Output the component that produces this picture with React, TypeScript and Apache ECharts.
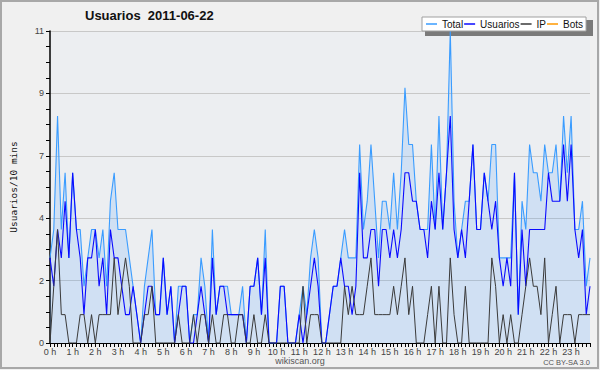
import React, { useEffect, useRef } from "react";
import * as echarts from "echarts";

// 10-minute slots over the day (144 points)
const slots: string[] = Array.from({ length: 144 }, (_, i) => `${Math.floor(i / 6)}:${(i % 6) * 10}`);

const seriesNames = ["Total", "Usuarios", "IP", "Bots"];

const totalValues = [
  3, 4, 8, 4, 6, 3, 6, 4, 4, 2, 3, 4, 4, 3, 4, 2, 5, 6, 4, 4, 4, 3, 2, 1, 0,
  2, 3, 4, 1, 1, 3, 1, 2, 0, 2, 2, 2,
  0, 1, 1, 3, 2, 0, 4, 1, 2, 2, 2, 1, 1,
  1, 2, 0, 2, 2, 3, 1, 4, 0, 0, 0, 2, 2, 0, 0, 0,
  1, 2, 1, 3, 4, 3, 0, 0, 1, 2, 2,
  3, 4, 3, 3, 3, 7, 4, 5, 7, 5, 3, 5, 5, 4, 6, 4, 6, 9, 7, 7, 5, 4, 4, 4,
  7, 4, 8, 4, 6, 11, 5, 3, 4, 5, 5, 7, 4, 4, 6, 5, 7, 7, 3, 3, 3, 3, 6, 1, 5, 4,
  7, 6, 6, 5, 7, 6, 6, 7, 5, 8, 6, 8, 4, 4, 5, 2, 3,
];

const usuariosValues = [
  3, 2, 4, 3, 5, 3, 6, 4, 3, 1, 3, 3, 4, 2, 3, 1, 4, 3, 3, 2, 1, 1, 2, 1, 0,
  1, 2, 2, 1, 1, 3, 1, 2, 0, 1, 2, 2,
  0, 0, 1, 2, 1, 0, 3, 1, 2, 2, 1, 1, 1,
  1, 1, 0, 2, 2, 3, 1, 3, 0, 0, 0, 2, 2, 0, 0, 0,
  1, 0, 1, 2, 3, 2, 0, 0, 1, 2, 2,
  3, 2, 2, 1, 2, 6, 3, 3, 4, 4, 2, 4, 4, 3, 4, 3, 4, 6, 6, 5, 5, 4, 4, 3,
  5, 4, 6, 4, 6, 8, 4, 3, 4, 3, 5, 7, 4, 4, 6, 5, 4, 5, 3, 2, 3, 2, 6, 1, 4, 2,
  4, 4, 4, 4, 4, 6, 5, 5, 5, 7, 5, 7, 4, 3, 4, 1, 2,
];

const ipValues = [
  0, 2, 4, 1, 1, 0, 0, 0, 1, 1, 0, 1, 0, 1, 1, 1, 1, 3, 1, 2, 3, 2, 0, 0, 0,
  1, 1, 2, 0, 0, 0, 0, 0, 0, 1, 0, 0,
  0, 1, 0, 1, 1, 0, 1, 0, 0, 1, 1, 0, 0,
  1, 1, 0, 0, 1, 0, 0, 1, 0, 0, 0, 0, 0, 0, 0, 0,
  0, 2, 0, 1, 1, 1, 0, 0, 0, 0, 0,
  0, 2, 1, 2, 1, 1, 1, 2, 3, 1, 1, 1, 1, 1, 2, 1, 2, 3, 1, 2, 0, 0, 0, 1,
  2, 0, 2, 0, 0, 3, 1, 0, 0, 2, 0, 0, 0, 0, 0, 0, 3, 2, 0, 1, 0, 1, 0, 0, 1, 2,
  3, 2, 2, 1, 3, 0, 1, 2, 0, 1, 1, 1, 0, 1, 1, 1, 1,
];

const botsValues: number[] = [];

const FONT = "Liberation Sans";

export default function App() {
  const ref = useRef<HTMLDivElement>(null);

  useEffect(() => {
    if (!ref.current) return;
    const chart = echarts.init(ref.current, undefined, { renderer: "svg" });
    chart.setOption({
      animation: false,
      backgroundColor: "#f0f0f0",
      title: {
        text: "Usuarios  2011-06-22",
        left: 85,
        top: 9,
        padding: 0,
        textStyle: { fontFamily: FONT, fontSize: 13, fontWeight: "bold", color: "#111" },
      },
      legend: {
        data: seriesNames,
        left: 422,
        top: 17,
        padding: [2, 3, 2, 4],
        itemGap: 1,
        itemWidth: 11,
        itemHeight: 1.5,
        icon: "rect",
        backgroundColor: "#ffffff",
        borderColor: "#a0a0a0",
        borderWidth: 1,
        z: 10,
        textStyle: { fontFamily: FONT, fontSize: 10, color: "#111" },
      },
      grid: {
        left: 47,
        right: 10,
        top: 31,
        bottom: 27,
        show: true,
        backgroundColor: "#eceef1",
        borderWidth: 0,
      },
      xAxis: {
        type: "category",
        data: slots,
        boundaryGap: false,
        axisLine: { lineStyle: { color: "#000", width: 1.2 } },
        axisTick: { interval: 0, length: 4, lineStyle: { color: "#000" } },
        axisLabel: {
          interval: 0,
          formatter: (_v: string, i: number) => (i % 6 === 0 ? `${i / 6} h` : ""),
          color: "#444",
          fontSize: 9,
          fontFamily: FONT,
          margin: 4,
        },
        splitLine: { show: false },
      },
      yAxis: {
        type: "value",
        min: 0,
        max: 11,
        interval: 2.2,
        name: "Usuarios/10 mins",
        nameLocation: "middle",
        nameGap: 32,
        nameRotate: 90,
        nameTextStyle: { fontFamily: "DejaVu Sans Mono", fontSize: 9.5, color: "#111" },
        axisLine: { show: true, lineStyle: { color: "#000", width: 1.5 } },
        axisTick: { show: true, length: 4, lineStyle: { color: "#000" } },
        minorTick: { show: true, splitNumber: 4, length: 4, lineStyle: { color: "#000" } },
        axisLabel: {
          formatter: (v: number) => String(Math.round(v)),
          fontSize: 9,
          fontFamily: FONT,
          color: "#444",
          margin: 6,
        },
        splitLine: { lineStyle: { color: "#c8c8c8", width: 1 } },
      },
      series: [
        {
          name: "Total",
          type: "line",
          data: totalValues,
          color: "#3a9cff",
          showSymbol: false,
          lineStyle: { width: 1.1, color: "#3a9cff" },
          areaStyle: { color: "rgba(51,153,255,0.22)" },
        },
        {
          name: "Usuarios",
          type: "line",
          data: usuariosValues,
          color: "#0a0aff",
          showSymbol: false,
          lineStyle: { width: 1.1, color: "#0a0aff" },
        },
        {
          name: "IP",
          type: "line",
          data: ipValues,
          color: "#3a3a3a",
          showSymbol: false,
          lineStyle: { width: 1, color: "#3a3a3a" },
        },
        {
          name: "Bots",
          type: "line",
          data: botsValues,
          color: "#ff9900",
          showSymbol: false,
          lineStyle: { width: 1, color: "#ff9900" },
        },
      ],
      graphic: [
        {
          type: "rect",
          shape: { x: 1, y: 1, width: 597, height: 367 },
          style: { fill: "none", stroke: "#a8a8a8", lineWidth: 2 },
          z: 1,
          silent: true,
        },
        {
          type: "rect",
          shape: { x: 425, y: 20, width: 168, height: 16 },
          style: { fill: "#7a7a7a" },
          z: 3,
          silent: true,
        },
        {
          type: "text",
          x: 300,
          y: 361,
          style: {
            text: "wikiscan.org",
            fill: "#555",
            fontSize: 9,
            fontFamily: FONT,
            align: "center",
            verticalAlign: "middle",
          },
        },
        {
          type: "text",
          x: 590,
          y: 362,
          style: {
            text: "CC BY-SA 3.0",
            fill: "#555",
            fontSize: 7.5,
            fontFamily: FONT,
            align: "right",
            verticalAlign: "middle",
          },
        },
      ],
    });
    return () => chart.dispose();
  }, []);

  return (
    <div
      ref={ref}
      style={{ position: "absolute", left: 0, top: 0, width: 600, height: 370 }}
    />
  );
}
